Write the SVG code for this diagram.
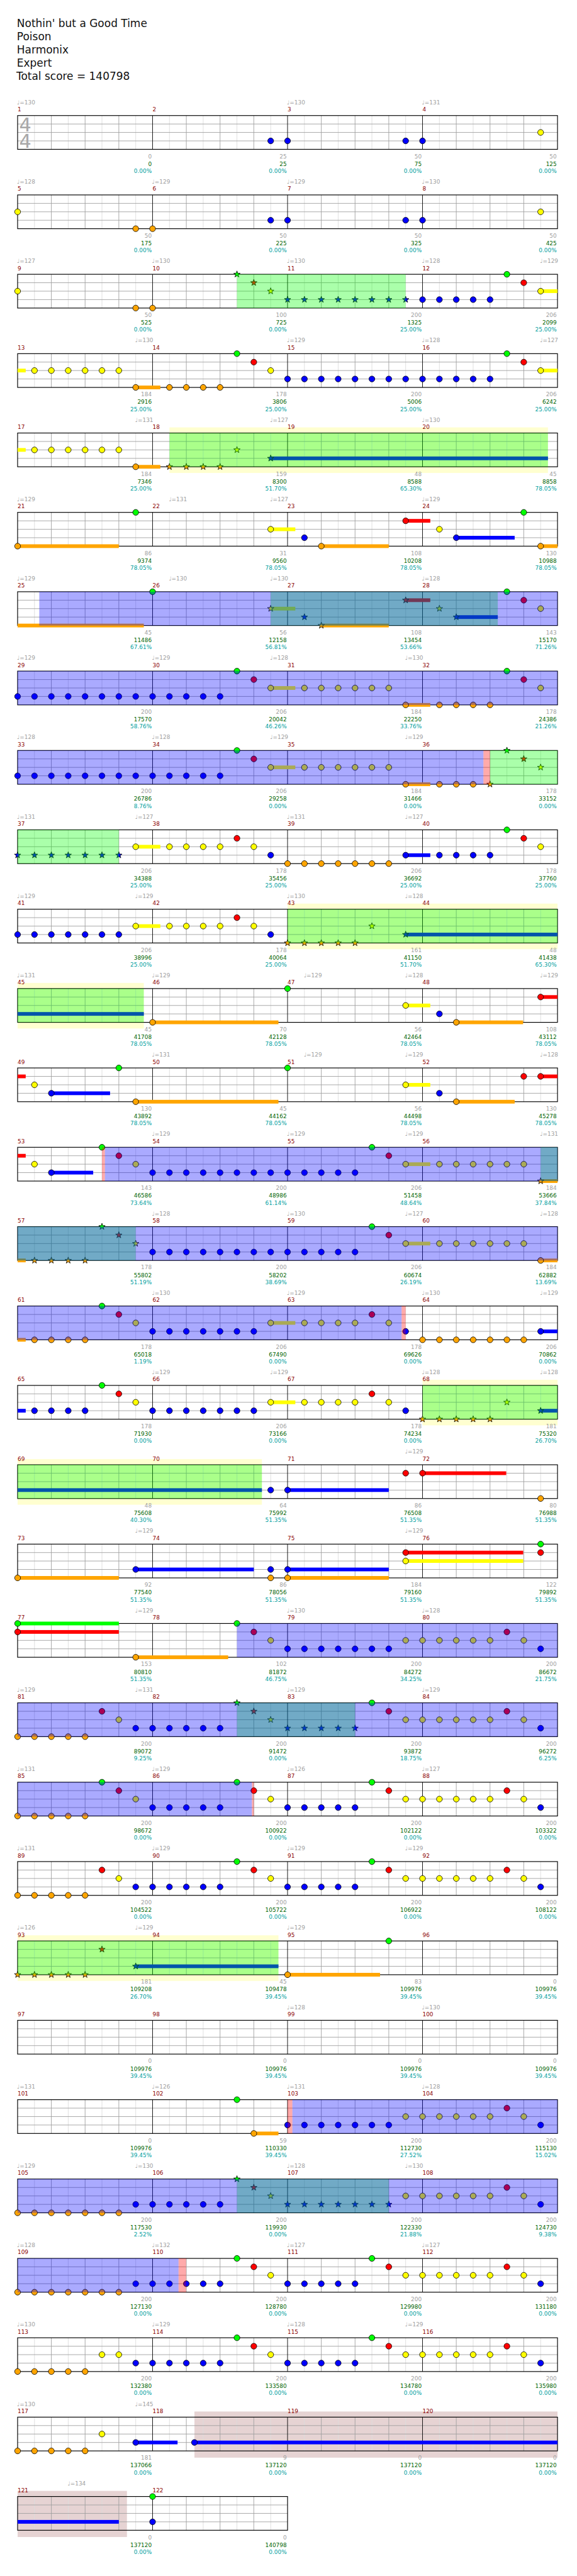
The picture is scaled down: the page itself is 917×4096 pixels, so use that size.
<svg xmlns="http://www.w3.org/2000/svg" width="917" height="4096" viewBox="0 0 917 4096">
<style>
text{font-family:"DejaVu Sans","Liberation Sans",sans-serif;font-size:10px}
.h{font-size:19px;fill:#111}
.ts{font-size:34px;fill:#a8a8a8}
.t{fill:#a0a0a0}
.m{fill:#8b0000}
.p,.q,.c{text-anchor:end}
.p{fill:#a0a0a0}.q{fill:#006400}.c{fill:#00a0a0}
.g{fill:#0f0}.r{fill:#f00}.y{fill:#ff0}.b{fill:#00f}.o{fill:#ffa500}
circle,.s{stroke:#000;stroke-width:.9}
.lg{fill:#0f0;fill-opacity:.333}
.lb{fill:#00f;fill-opacity:.333}
.lp{fill:#f00;fill-opacity:.333}
.wy{fill:#ffffd0}
.bre{fill:#e6d3d3}
</style>
<defs>
<path id="S" d="M0-6L1.41-1.94 5.71-1.85 2.28.74 3.53 4.85 0 2.4-3.53 4.85-2.28.74-5.71-1.85-1.41-1.94Z"/>
<g id="grid" fill="none">
<path stroke="#dcdcdc" d="M30 0V60M90 0V60M150 0V60M210 0V60M270 0V60M330 0V60M390 0V60M450 0V60M510 0V60M570 0V60M630 0V60M690 0V60M750 0V60M810 0V60M870 0V60M930 0V60"/>
<path stroke="#a0a0a0" d="M60 0V60M120 0V60M180 0V60M300 0V60M360 0V60M420 0V60M540 0V60M600 0V60M660 0V60M780 0V60M840 0V60M900 0V60M0 15H960M0 30H960M0 45H960"/>
<path stroke="#000" d="M240 0V60M480 0V60M720 0V60"/>
<rect width="960" height="60" stroke="#000" stroke-width="1.3"/>
</g>
<g id="grid2" fill="none">
<path stroke="#dcdcdc" d="M30 0V60M90 0V60M150 0V60M210 0V60M270 0V60M330 0V60M390 0V60M450 0V60"/>
<path stroke="#a0a0a0" d="M60 0V60M120 0V60M180 0V60M300 0V60M360 0V60M420 0V60M0 15H480M0 30H480M0 45H480"/>
<path stroke="#000" d="M240 0V60"/>
<rect width="480" height="60" stroke="#000" stroke-width="1.3"/>
</g>
</defs>
<g transform="scale(0.8938 0.895)">
<g id="header">
<text class="h" x="30" y="48.3">Nothin' but a Good Time</text>
<text class="h" x="30" y="71.6">Poison</text>
<text class="h" x="30" y="95">Harmonix</text>
<text class="h" x="30" y="118.3">Expert</text>
<text class="h" x="29" y="141.6">Total score = 140798</text>
</g>

<g id="row01" transform="translate(31.3 205.3)">
<use href="#grid"/>
<text class="ts" x="2.7" y="27.7">4</text><text class="ts" x="2.7" y="57.7">4</text>
<circle class="b" cx="450" cy="45" r="5.2"/><circle class="b" cx="480" cy="45" r="5.2"/><circle class="b" cx="690" cy="45" r="5.2"/><circle class="b" cx="720" cy="45" r="5.2"/><circle class="y" cx="930" cy="30" r="5.2"/>
<text class="t" x="-1" y="-20">♩=130</text><text class="t" x="479" y="-20">♩=130</text><text class="t" x="719" y="-20">♩=131</text>
<text class="m" y="-7.3">1</text><text class="m" x="240" y="-7.3">2</text><text class="m" x="480" y="-7.3">3</text><text class="m" x="720" y="-7.3">4</text>
<text class="p" x="238.5" y="76">0</text><text class="q" x="238.5" y="89.5">0</text><text class="c" x="238.5" y="102">0.00%</text>
<text class="p" x="478.5" y="76">25</text><text class="q" x="478.5" y="89.5">25</text><text class="c" x="478.5" y="102">0.00%</text>
<text class="p" x="718.5" y="76">50</text><text class="q" x="718.5" y="89.5">75</text><text class="c" x="718.5" y="102">0.00%</text>
<text class="p" x="958.5" y="76">50</text><text class="q" x="958.5" y="89.5">125</text><text class="c" x="958.5" y="102">0.00%</text>
</g>

<g id="row02" transform="translate(31.3 346.3)">
<use href="#grid"/>
<circle class="y" cx="0" cy="30" r="5.2"/><circle class="o" cx="210" cy="60" r="5.2"/><circle class="o" cx="240" cy="60" r="5.2"/><circle class="b" cx="450" cy="45" r="5.2"/><circle class="b" cx="480" cy="45" r="5.2"/><circle class="b" cx="690" cy="45" r="5.2"/><circle class="b" cx="720" cy="45" r="5.2"/><circle class="y" cx="930" cy="30" r="5.2"/>
<text class="t" x="-1" y="-20">♩=128</text><text class="t" x="239" y="-20">♩=129</text><text class="t" x="479" y="-20">♩=129</text><text class="t" x="719" y="-20">♩=130</text>
<text class="m" y="-7.3">5</text><text class="m" x="240" y="-7.3">6</text><text class="m" x="480" y="-7.3">7</text><text class="m" x="720" y="-7.3">8</text>
<text class="p" x="238.5" y="76">50</text><text class="q" x="238.5" y="89.5">175</text><text class="c" x="238.5" y="102">0.00%</text>
<text class="p" x="478.5" y="76">50</text><text class="q" x="478.5" y="89.5">225</text><text class="c" x="478.5" y="102">0.00%</text>
<text class="p" x="718.5" y="76">50</text><text class="q" x="718.5" y="89.5">325</text><text class="c" x="718.5" y="102">0.00%</text>
<text class="p" x="958.5" y="76">50</text><text class="q" x="958.5" y="89.5">425</text><text class="c" x="958.5" y="102">0.00%</text>
</g>

<g id="row03" transform="translate(31.3 487.3)">
<use href="#grid"/>
<rect class="y" x="930" y="26.7" width="30" height="6.6"/>
<circle class="y" cx="0" cy="30" r="5.2"/><circle class="o" cx="210" cy="60" r="5.2"/><circle class="o" cx="240" cy="60" r="5.2"/>
<use class="s g" href="#S" x="390" y="0"/><use class="s r" href="#S" x="420" y="15"/><use class="s y" href="#S" x="450" y="30"/><use class="s b" href="#S" x="480" y="45"/><use class="s b" href="#S" x="510" y="45"/><use class="s b" href="#S" x="540" y="45"/><use class="s b" href="#S" x="570" y="45"/><use class="s b" href="#S" x="600" y="45"/><use class="s b" href="#S" x="630" y="45"/><use class="s b" href="#S" x="660" y="45"/><use class="s b" href="#S" x="690" y="45"/>
<circle class="b" cx="720" cy="45" r="5.2"/><circle class="b" cx="750" cy="45" r="5.2"/><circle class="b" cx="780" cy="45" r="5.2"/><circle class="b" cx="810" cy="45" r="5.2"/><circle class="b" cx="840" cy="45" r="5.2"/><circle class="g" cx="870" cy="0" r="5.2"/><circle class="r" cx="900" cy="15" r="5.2"/><circle class="y" cx="930" cy="30" r="5.2"/>
<rect class="lg" x="390" y="0" width="300" height="60"/>
<text class="t" x="-1" y="-20">♩=127</text><text class="t" x="239" y="-20">♩=130</text><text class="t" x="479" y="-20">♩=130</text><text class="t" x="719" y="-20">♩=128</text><text class="t" x="929" y="-20">♩=129</text>
<text class="m" y="-7.3">9</text><text class="m" x="240" y="-7.3">10</text><text class="m" x="480" y="-7.3">11</text><text class="m" x="720" y="-7.3">12</text>
<text class="p" x="238.5" y="76">50</text><text class="q" x="238.5" y="89.5">525</text><text class="c" x="238.5" y="102">0.00%</text>
<text class="p" x="478.5" y="76">100</text><text class="q" x="478.5" y="89.5">725</text><text class="c" x="478.5" y="102">0.00%</text>
<text class="p" x="718.5" y="76">200</text><text class="q" x="718.5" y="89.5">1325</text><text class="c" x="718.5" y="102">25.00%</text>
<text class="p" x="958.5" y="76">206</text><text class="q" x="958.5" y="89.5">2099</text><text class="c" x="958.5" y="102">25.00%</text>
</g>

<g id="row04" transform="translate(31.3 628.3)">
<use href="#grid"/>
<rect class="y" x="0" y="26.7" width="14.4" height="6.6"/><rect class="o" x="210" y="56.7" width="43.8" height="6.6"/><rect class="y" x="930" y="26.7" width="30" height="6.6"/>
<circle class="y" cx="30" cy="30" r="5.2"/><circle class="y" cx="60" cy="30" r="5.2"/><circle class="y" cx="90" cy="30" r="5.2"/><circle class="y" cx="120" cy="30" r="5.2"/><circle class="y" cx="150" cy="30" r="5.2"/><circle class="y" cx="180" cy="30" r="5.2"/>
<circle class="o" cx="210" cy="60" r="5.2"/><circle class="o" cx="270" cy="60" r="5.2"/><circle class="o" cx="300" cy="60" r="5.2"/><circle class="o" cx="330" cy="60" r="5.2"/><circle class="o" cx="360" cy="60" r="5.2"/>
<circle class="g" cx="390" cy="0" r="5.2"/><circle class="r" cx="420" cy="15" r="5.2"/><circle class="y" cx="450" cy="30" r="5.2"/>
<circle class="b" cx="480" cy="45" r="5.2"/><circle class="b" cx="510" cy="45" r="5.2"/><circle class="b" cx="540" cy="45" r="5.2"/><circle class="b" cx="570" cy="45" r="5.2"/><circle class="b" cx="600" cy="45" r="5.2"/><circle class="b" cx="630" cy="45" r="5.2"/><circle class="b" cx="660" cy="45" r="5.2"/><circle class="b" cx="690" cy="45" r="5.2"/><circle class="b" cx="720" cy="45" r="5.2"/><circle class="b" cx="750" cy="45" r="5.2"/><circle class="b" cx="780" cy="45" r="5.2"/><circle class="b" cx="810" cy="45" r="5.2"/><circle class="b" cx="840" cy="45" r="5.2"/>
<circle class="g" cx="870" cy="0" r="5.2"/><circle class="r" cx="900" cy="15" r="5.2"/><circle class="y" cx="930" cy="30" r="5.2"/>
<text class="t" x="209" y="-20">♩=130</text><text class="t" x="479" y="-20">♩=129</text><text class="t" x="719" y="-20">♩=128</text><text class="t" x="929" y="-20">♩=127</text>
<text class="m" y="-7.3">13</text><text class="m" x="240" y="-7.3">14</text><text class="m" x="480" y="-7.3">15</text><text class="m" x="720" y="-7.3">16</text>
<text class="p" x="238.5" y="76">184</text><text class="q" x="238.5" y="89.5">2916</text><text class="c" x="238.5" y="102">25.00%</text>
<text class="p" x="478.5" y="76">178</text><text class="q" x="478.5" y="89.5">3806</text><text class="c" x="478.5" y="102">25.00%</text>
<text class="p" x="718.5" y="76">200</text><text class="q" x="718.5" y="89.5">5006</text><text class="c" x="718.5" y="102">25.00%</text>
<text class="p" x="958.5" y="76">206</text><text class="q" x="958.5" y="89.5">6242</text><text class="c" x="958.5" y="102">25.00%</text>
</g>

<g id="row05" transform="translate(31.3 769.3)">
<rect class="wy" x="270" y="-10" width="673" height="81"/>
<use href="#grid"/>
<rect class="y" x="0" y="26.7" width="14.4" height="6.6"/><rect class="o" x="210" y="56.7" width="43.8" height="6.6"/><rect class="b" x="450" y="41.7" width="493" height="6.6"/>
<circle class="y" cx="30" cy="30" r="5.2"/><circle class="y" cx="60" cy="30" r="5.2"/><circle class="y" cx="90" cy="30" r="5.2"/><circle class="y" cx="120" cy="30" r="5.2"/><circle class="y" cx="150" cy="30" r="5.2"/><circle class="y" cx="180" cy="30" r="5.2"/>
<circle class="o" cx="210" cy="60" r="5.2"/>
<use class="s o" href="#S" x="270" y="60"/><use class="s o" href="#S" x="300" y="60"/><use class="s o" href="#S" x="330" y="60"/><use class="s o" href="#S" x="360" y="60"/><use class="s y" href="#S" x="390" y="30"/><use class="s b" href="#S" x="450" y="45"/>
<rect class="lg" x="270" y="0" width="673" height="60"/>
<text class="t" x="209" y="-20">♩=131</text><text class="t" x="449" y="-20">♩=127</text><text class="t" x="719" y="-20">♩=130</text>
<text class="m" y="-7.3">17</text><text class="m" x="240" y="-7.3">18</text><text class="m" x="480" y="-7.3">19</text><text class="m" x="720" y="-7.3">20</text>
<text class="p" x="238.5" y="76">184</text><text class="q" x="238.5" y="89.5">7346</text><text class="c" x="238.5" y="102">25.00%</text>
<text class="p" x="478.5" y="76">159</text><text class="q" x="478.5" y="89.5">8300</text><text class="c" x="478.5" y="102">51.70%</text>
<text class="p" x="718.5" y="76">48</text><text class="q" x="718.5" y="89.5">8588</text><text class="c" x="718.5" y="102">65.30%</text>
<text class="p" x="958.5" y="76">45</text><text class="q" x="958.5" y="89.5">8858</text><text class="c" x="958.5" y="102">78.05%</text>
</g>

<g id="row06" transform="translate(31.3 910.3)">
<use href="#grid"/>
<rect class="o" x="0" y="56.7" width="180" height="6.6"/><rect class="y" x="450" y="26.7" width="43.8" height="6.6"/><rect class="o" x="540" y="56.7" width="120" height="6.6"/><rect class="r" x="690" y="11.7" width="43.8" height="6.6"/><rect class="b" x="780" y="41.7" width="103.8" height="6.6"/><rect class="o" x="930" y="56.7" width="30" height="6.6"/>
<circle class="o" cx="0" cy="60" r="5.2"/><circle class="g" cx="210" cy="0" r="5.2"/><circle class="y" cx="450" cy="30" r="5.2"/><circle class="b" cx="510" cy="45" r="5.2"/><circle class="o" cx="540" cy="60" r="5.2"/><circle class="r" cx="690" cy="15" r="5.2"/><circle class="y" cx="750" cy="30" r="5.2"/><circle class="b" cx="780" cy="45" r="5.2"/><circle class="g" cx="900" cy="0" r="5.2"/><circle class="o" cx="930" cy="60" r="5.2"/>
<text class="t" x="-1" y="-20">♩=129</text><text class="t" x="269" y="-20">♩=131</text><text class="t" x="449" y="-20">♩=127</text><text class="t" x="719" y="-20">♩=129</text>
<text class="m" y="-7.3">21</text><text class="m" x="240" y="-7.3">22</text><text class="m" x="480" y="-7.3">23</text><text class="m" x="720" y="-7.3">24</text>
<text class="p" x="238.5" y="76">86</text><text class="q" x="238.5" y="89.5">9374</text><text class="c" x="238.5" y="102">78.05%</text>
<text class="p" x="478.5" y="76">31</text><text class="q" x="478.5" y="89.5">9560</text><text class="c" x="478.5" y="102">78.05%</text>
<text class="p" x="718.5" y="76">108</text><text class="q" x="718.5" y="89.5">10208</text><text class="c" x="718.5" y="102">78.05%</text>
<text class="p" x="958.5" y="76">130</text><text class="q" x="958.5" y="89.5">10988</text><text class="c" x="958.5" y="102">78.05%</text>
</g>

<g id="row07" transform="translate(31.3 1051.3)">
<use href="#grid"/>
<rect class="o" x="0" y="56.7" width="224.4" height="6.6"/><rect class="y" x="450" y="26.7" width="43.8" height="6.6"/><rect class="o" x="540" y="56.7" width="120" height="6.6"/><rect class="r" x="690" y="11.7" width="43.8" height="6.6"/><rect class="b" x="780" y="41.7" width="73.8" height="6.6"/>
<circle class="g" cx="240" cy="0" r="5.2"/>
<use class="s y" href="#S" x="450" y="30"/><use class="s b" href="#S" x="510" y="45"/><use class="s o" href="#S" x="540" y="60"/><use class="s r" href="#S" x="690" y="15"/><use class="s y" href="#S" x="750" y="30"/><use class="s b" href="#S" x="780" y="45"/>
<circle class="g" cx="870" cy="0" r="5.2"/><circle class="r" cx="900" cy="15" r="5.2"/><circle class="y" cx="930" cy="30" r="5.2"/>
<rect class="lg" x="450" y="0" width="403.8" height="60"/>
<rect class="lb" x="38.5" y="0" width="921.5" height="60"/>
<text class="t" x="-1" y="-20">♩=129</text><text class="t" x="269" y="-20">♩=130</text><text class="t" x="449" y="-20">♩=130</text><text class="t" x="719" y="-20">♩=128</text>
<text class="m" y="-7.3">25</text><text class="m" x="240" y="-7.3">26</text><text class="m" x="480" y="-7.3">27</text><text class="m" x="720" y="-7.3">28</text>
<text class="p" x="238.5" y="76">45</text><text class="q" x="238.5" y="89.5">11486</text><text class="c" x="238.5" y="102">67.61%</text>
<text class="p" x="478.5" y="76">56</text><text class="q" x="478.5" y="89.5">12158</text><text class="c" x="478.5" y="102">56.81%</text>
<text class="p" x="718.5" y="76">108</text><text class="q" x="718.5" y="89.5">13454</text><text class="c" x="718.5" y="102">53.66%</text>
<text class="p" x="958.5" y="76">143</text><text class="q" x="958.5" y="89.5">15170</text><text class="c" x="958.5" y="102">71.26%</text>
</g>

<g id="row08" transform="translate(31.3 1192.3)">
<use href="#grid"/>
<rect class="y" x="450" y="26.7" width="43.8" height="6.6"/><rect class="o" x="690" y="56.7" width="43.8" height="6.6"/>
<circle class="b" cx="0" cy="45" r="5.2"/><circle class="b" cx="30" cy="45" r="5.2"/><circle class="b" cx="60" cy="45" r="5.2"/><circle class="b" cx="90" cy="45" r="5.2"/><circle class="b" cx="120" cy="45" r="5.2"/><circle class="b" cx="150" cy="45" r="5.2"/><circle class="b" cx="180" cy="45" r="5.2"/><circle class="b" cx="210" cy="45" r="5.2"/><circle class="b" cx="240" cy="45" r="5.2"/><circle class="b" cx="270" cy="45" r="5.2"/><circle class="b" cx="300" cy="45" r="5.2"/><circle class="b" cx="330" cy="45" r="5.2"/><circle class="b" cx="360" cy="45" r="5.2"/>
<circle class="g" cx="390" cy="0" r="5.2"/><circle class="r" cx="420" cy="15" r="5.2"/><circle class="y" cx="450" cy="30" r="5.2"/>
<circle class="y" cx="510" cy="30" r="5.2"/><circle class="y" cx="540" cy="30" r="5.2"/><circle class="y" cx="570" cy="30" r="5.2"/><circle class="y" cx="600" cy="30" r="5.2"/><circle class="y" cx="630" cy="30" r="5.2"/><circle class="y" cx="660" cy="30" r="5.2"/>
<circle class="o" cx="690" cy="60" r="5.2"/><circle class="o" cx="750" cy="60" r="5.2"/><circle class="o" cx="780" cy="60" r="5.2"/><circle class="o" cx="810" cy="60" r="5.2"/><circle class="o" cx="840" cy="60" r="5.2"/>
<circle class="g" cx="870" cy="0" r="5.2"/><circle class="r" cx="900" cy="15" r="5.2"/><circle class="y" cx="930" cy="30" r="5.2"/>
<rect class="lb" x="0" y="0" width="960" height="60"/>
<text class="t" x="-1" y="-20">♩=129</text><text class="t" x="239" y="-20">♩=129</text><text class="t" x="449" y="-20">♩=128</text><text class="t" x="689" y="-20">♩=130</text>
<text class="m" y="-7.3">29</text><text class="m" x="240" y="-7.3">30</text><text class="m" x="480" y="-7.3">31</text><text class="m" x="720" y="-7.3">32</text>
<text class="p" x="238.5" y="76">200</text><text class="q" x="238.5" y="89.5">17570</text><text class="c" x="238.5" y="102">58.76%</text>
<text class="p" x="478.5" y="76">206</text><text class="q" x="478.5" y="89.5">20042</text><text class="c" x="478.5" y="102">46.26%</text>
<text class="p" x="718.5" y="76">184</text><text class="q" x="718.5" y="89.5">22250</text><text class="c" x="718.5" y="102">33.76%</text>
<text class="p" x="958.5" y="76">178</text><text class="q" x="958.5" y="89.5">24386</text><text class="c" x="958.5" y="102">21.26%</text>
</g>

<g id="row09" transform="translate(31.3 1333.3)">
<use href="#grid"/>
<rect class="y" x="450" y="26.7" width="43.8" height="6.6"/><rect class="o" x="690" y="56.7" width="43.8" height="6.6"/>
<circle class="b" cx="0" cy="45" r="5.2"/><circle class="b" cx="30" cy="45" r="5.2"/><circle class="b" cx="60" cy="45" r="5.2"/><circle class="b" cx="90" cy="45" r="5.2"/><circle class="b" cx="120" cy="45" r="5.2"/><circle class="b" cx="150" cy="45" r="5.2"/><circle class="b" cx="180" cy="45" r="5.2"/><circle class="b" cx="210" cy="45" r="5.2"/><circle class="b" cx="240" cy="45" r="5.2"/><circle class="b" cx="270" cy="45" r="5.2"/><circle class="b" cx="300" cy="45" r="5.2"/><circle class="b" cx="330" cy="45" r="5.2"/><circle class="b" cx="360" cy="45" r="5.2"/>
<circle class="g" cx="390" cy="0" r="5.2"/><circle class="r" cx="420" cy="15" r="5.2"/><circle class="y" cx="450" cy="30" r="5.2"/>
<circle class="y" cx="510" cy="30" r="5.2"/><circle class="y" cx="540" cy="30" r="5.2"/><circle class="y" cx="570" cy="30" r="5.2"/><circle class="y" cx="600" cy="30" r="5.2"/><circle class="y" cx="630" cy="30" r="5.2"/><circle class="y" cx="660" cy="30" r="5.2"/>
<circle class="o" cx="690" cy="60" r="5.2"/><circle class="o" cx="750" cy="60" r="5.2"/><circle class="o" cx="780" cy="60" r="5.2"/><circle class="o" cx="810" cy="60" r="5.2"/>
<use class="s o" href="#S" x="840" y="60"/><use class="s g" href="#S" x="870" y="0"/><use class="s r" href="#S" x="900" y="15"/><use class="s y" href="#S" x="930" y="30"/>
<rect class="lg" x="840" y="0" width="120" height="60"/>
<rect class="lb" x="0" y="0" width="828.3" height="60"/>
<rect class="lp" x="828.3" y="0" width="11.7" height="60"/>
<text class="t" x="-1" y="-20">♩=128</text><text class="t" x="239" y="-20">♩=128</text><text class="t" x="449" y="-20">♩=129</text><text class="t" x="689" y="-20">♩=129</text>
<text class="m" y="-7.3">33</text><text class="m" x="240" y="-7.3">34</text><text class="m" x="480" y="-7.3">35</text><text class="m" x="720" y="-7.3">36</text>
<text class="p" x="238.5" y="76">200</text><text class="q" x="238.5" y="89.5">26786</text><text class="c" x="238.5" y="102">8.76%</text>
<text class="p" x="478.5" y="76">206</text><text class="q" x="478.5" y="89.5">29258</text><text class="c" x="478.5" y="102">0.00%</text>
<text class="p" x="718.5" y="76">184</text><text class="q" x="718.5" y="89.5">31466</text><text class="c" x="718.5" y="102">0.00%</text>
<text class="p" x="958.5" y="76">178</text><text class="q" x="958.5" y="89.5">33152</text><text class="c" x="958.5" y="102">0.00%</text>
</g>

<g id="row10" transform="translate(31.3 1474.3)">
<use href="#grid"/>
<rect class="y" x="210" y="26.7" width="43.8" height="6.6"/><rect class="b" x="690" y="41.7" width="43.8" height="6.6"/>
<use class="s b" href="#S" x="0" y="45"/><use class="s b" href="#S" x="30" y="45"/><use class="s b" href="#S" x="60" y="45"/><use class="s b" href="#S" x="90" y="45"/><use class="s b" href="#S" x="120" y="45"/><use class="s b" href="#S" x="150" y="45"/><use class="s b" href="#S" x="180" y="45"/>
<circle class="y" cx="210" cy="30" r="5.2"/><circle class="y" cx="270" cy="30" r="5.2"/><circle class="y" cx="300" cy="30" r="5.2"/><circle class="y" cx="330" cy="30" r="5.2"/><circle class="y" cx="360" cy="30" r="5.2"/>
<circle class="r" cx="390" cy="15" r="5.2"/><circle class="y" cx="420" cy="30" r="5.2"/><circle class="b" cx="450" cy="45" r="5.2"/>
<circle class="o" cx="480" cy="60" r="5.2"/><circle class="o" cx="510" cy="60" r="5.2"/><circle class="o" cx="540" cy="60" r="5.2"/><circle class="o" cx="570" cy="60" r="5.2"/><circle class="o" cx="600" cy="60" r="5.2"/><circle class="o" cx="630" cy="60" r="5.2"/><circle class="o" cx="660" cy="60" r="5.2"/>
<circle class="b" cx="690" cy="45" r="5.2"/><circle class="b" cx="750" cy="45" r="5.2"/><circle class="b" cx="780" cy="45" r="5.2"/><circle class="b" cx="810" cy="45" r="5.2"/><circle class="b" cx="840" cy="45" r="5.2"/>
<circle class="g" cx="870" cy="0" r="5.2"/><circle class="r" cx="900" cy="15" r="5.2"/><circle class="y" cx="930" cy="30" r="5.2"/>
<rect class="lg" x="0" y="0" width="180" height="60"/>
<text class="t" x="-1" y="-20">♩=131</text><text class="t" x="209" y="-20">♩=127</text><text class="t" x="479" y="-20">♩=131</text><text class="t" x="689" y="-20">♩=127</text>
<text class="m" y="-7.3">37</text><text class="m" x="240" y="-7.3">38</text><text class="m" x="480" y="-7.3">39</text><text class="m" x="720" y="-7.3">40</text>
<text class="p" x="238.5" y="76">206</text><text class="q" x="238.5" y="89.5">34388</text><text class="c" x="238.5" y="102">25.00%</text>
<text class="p" x="478.5" y="76">178</text><text class="q" x="478.5" y="89.5">35456</text><text class="c" x="478.5" y="102">25.00%</text>
<text class="p" x="718.5" y="76">206</text><text class="q" x="718.5" y="89.5">36692</text><text class="c" x="718.5" y="102">25.00%</text>
<text class="p" x="958.5" y="76">178</text><text class="q" x="958.5" y="89.5">37760</text><text class="c" x="958.5" y="102">25.00%</text>
</g>

<g id="row11" transform="translate(31.3 1615.3)">
<rect class="wy" x="480" y="-10" width="480" height="81"/>
<use href="#grid"/>
<rect class="y" x="210" y="26.7" width="43.8" height="6.6"/><rect class="b" x="690" y="41.7" width="270" height="6.6"/>
<circle class="b" cx="0" cy="45" r="5.2"/><circle class="b" cx="30" cy="45" r="5.2"/><circle class="b" cx="60" cy="45" r="5.2"/><circle class="b" cx="90" cy="45" r="5.2"/><circle class="b" cx="120" cy="45" r="5.2"/><circle class="b" cx="150" cy="45" r="5.2"/><circle class="b" cx="180" cy="45" r="5.2"/>
<circle class="y" cx="210" cy="30" r="5.2"/><circle class="y" cx="270" cy="30" r="5.2"/><circle class="y" cx="300" cy="30" r="5.2"/><circle class="y" cx="330" cy="30" r="5.2"/><circle class="y" cx="360" cy="30" r="5.2"/>
<circle class="r" cx="390" cy="15" r="5.2"/><circle class="y" cx="420" cy="30" r="5.2"/><circle class="b" cx="450" cy="45" r="5.2"/>
<use class="s o" href="#S" x="480" y="60"/><use class="s o" href="#S" x="510" y="60"/><use class="s o" href="#S" x="540" y="60"/><use class="s o" href="#S" x="570" y="60"/><use class="s o" href="#S" x="600" y="60"/><use class="s y" href="#S" x="630" y="30"/><use class="s b" href="#S" x="690" y="45"/>
<rect class="lg" x="480" y="0" width="480" height="60"/>
<text class="t" x="-1" y="-20">♩=129</text><text class="t" x="209" y="-20">♩=129</text><text class="t" x="479" y="-20">♩=130</text><text class="t" x="689" y="-20">♩=128</text>
<text class="m" y="-7.3">41</text><text class="m" x="240" y="-7.3">42</text><text class="m" x="480" y="-7.3">43</text><text class="m" x="720" y="-7.3">44</text>
<text class="p" x="238.5" y="76">206</text><text class="q" x="238.5" y="89.5">38996</text><text class="c" x="238.5" y="102">25.00%</text>
<text class="p" x="478.5" y="76">178</text><text class="q" x="478.5" y="89.5">40064</text><text class="c" x="478.5" y="102">25.00%</text>
<text class="p" x="718.5" y="76">161</text><text class="q" x="718.5" y="89.5">41150</text><text class="c" x="718.5" y="102">51.70%</text>
<text class="p" x="958.5" y="76">48</text><text class="q" x="958.5" y="89.5">41438</text><text class="c" x="958.5" y="102">65.30%</text>
</g>

<g id="row12" transform="translate(31.3 1756.3)">
<rect class="wy" x="0" y="-10" width="224.4" height="81"/>
<use href="#grid"/>
<rect class="b" x="0" y="41.7" width="224.4" height="6.6"/><rect class="o" x="240" y="56.7" width="223.8" height="6.6"/><rect class="y" x="690" y="26.7" width="43.8" height="6.6"/><rect class="o" x="780" y="56.7" width="118.8" height="6.6"/><rect class="r" x="930" y="11.7" width="30" height="6.6"/>
<circle class="o" cx="240" cy="60" r="5.2"/><circle class="g" cx="480" cy="0" r="5.2"/><circle class="y" cx="690" cy="30" r="5.2"/><circle class="b" cx="750" cy="45" r="5.2"/><circle class="o" cx="780" cy="60" r="5.2"/><circle class="r" cx="930" cy="15" r="5.2"/>
<rect class="lg" x="0" y="0" width="224.4" height="60"/>
<text class="t" x="-1" y="-20">♩=131</text><text class="t" x="239" y="-20">♩=129</text><text class="t" x="509" y="-20">♩=129</text><text class="t" x="689" y="-20">♩=128</text><text class="t" x="929" y="-20">♩=129</text>
<text class="m" y="-7.3">45</text><text class="m" x="240" y="-7.3">46</text><text class="m" x="480" y="-7.3">47</text><text class="m" x="720" y="-7.3">48</text>
<text class="p" x="238.5" y="76">45</text><text class="q" x="238.5" y="89.5">41708</text><text class="c" x="238.5" y="102">78.05%</text>
<text class="p" x="478.5" y="76">70</text><text class="q" x="478.5" y="89.5">42128</text><text class="c" x="478.5" y="102">78.05%</text>
<text class="p" x="718.5" y="76">56</text><text class="q" x="718.5" y="89.5">42464</text><text class="c" x="718.5" y="102">78.05%</text>
<text class="p" x="958.5" y="76">108</text><text class="q" x="958.5" y="89.5">43112</text><text class="c" x="958.5" y="102">78.05%</text>
</g>

<g id="row13" transform="translate(31.3 1897.3)">
<use href="#grid"/>
<rect class="r" x="0" y="11.7" width="14.4" height="6.6"/><rect class="b" x="60" y="41.7" width="104.4" height="6.6"/><rect class="o" x="210" y="56.7" width="253.8" height="6.6"/><rect class="y" x="690" y="26.7" width="43.8" height="6.6"/><rect class="o" x="780" y="56.7" width="103.8" height="6.6"/><rect class="r" x="930" y="11.7" width="30" height="6.6"/>
<circle class="y" cx="30" cy="30" r="5.2"/><circle class="b" cx="60" cy="45" r="5.2"/><circle class="g" cx="180" cy="0" r="5.2"/><circle class="o" cx="210" cy="60" r="5.2"/><circle class="g" cx="480" cy="0" r="5.2"/><circle class="y" cx="690" cy="30" r="5.2"/><circle class="b" cx="750" cy="45" r="5.2"/><circle class="o" cx="780" cy="60" r="5.2"/><circle class="r" cx="900" cy="15" r="5.2"/><circle class="r" cx="930" cy="15" r="5.2"/>
<text class="t" x="239" y="-20">♩=131</text><text class="t" x="509" y="-20">♩=129</text><text class="t" x="689" y="-20">♩=129</text><text class="t" x="929" y="-20">♩=128</text>
<text class="m" y="-7.3">49</text><text class="m" x="240" y="-7.3">50</text><text class="m" x="480" y="-7.3">51</text><text class="m" x="720" y="-7.3">52</text>
<text class="p" x="238.5" y="76">130</text><text class="q" x="238.5" y="89.5">43892</text><text class="c" x="238.5" y="102">78.05%</text>
<text class="p" x="478.5" y="76">45</text><text class="q" x="478.5" y="89.5">44162</text><text class="c" x="478.5" y="102">78.05%</text>
<text class="p" x="718.5" y="76">56</text><text class="q" x="718.5" y="89.5">44498</text><text class="c" x="718.5" y="102">78.05%</text>
<text class="p" x="958.5" y="76">130</text><text class="q" x="958.5" y="89.5">45278</text><text class="c" x="958.5" y="102">78.05%</text>
</g>

<g id="row14" transform="translate(31.3 2038.3)">
<use href="#grid"/>
<rect class="r" x="0" y="11.7" width="14.4" height="6.6"/><rect class="b" x="60" y="41.7" width="74.4" height="6.6"/><rect class="y" x="690" y="26.7" width="43.8" height="6.6"/><rect class="o" x="930" y="56.7" width="30" height="6.6"/>
<circle class="y" cx="30" cy="30" r="5.2"/><circle class="b" cx="60" cy="45" r="5.2"/><circle class="g" cx="150" cy="0" r="5.2"/><circle class="r" cx="180" cy="15" r="5.2"/><circle class="y" cx="210" cy="30" r="5.2"/>
<circle class="b" cx="240" cy="45" r="5.2"/><circle class="b" cx="270" cy="45" r="5.2"/><circle class="b" cx="300" cy="45" r="5.2"/><circle class="b" cx="330" cy="45" r="5.2"/><circle class="b" cx="360" cy="45" r="5.2"/><circle class="b" cx="390" cy="45" r="5.2"/><circle class="b" cx="420" cy="45" r="5.2"/><circle class="b" cx="450" cy="45" r="5.2"/><circle class="b" cx="480" cy="45" r="5.2"/><circle class="b" cx="510" cy="45" r="5.2"/><circle class="b" cx="540" cy="45" r="5.2"/><circle class="b" cx="570" cy="45" r="5.2"/><circle class="b" cx="600" cy="45" r="5.2"/>
<circle class="g" cx="630" cy="0" r="5.2"/><circle class="r" cx="660" cy="15" r="5.2"/><circle class="y" cx="690" cy="30" r="5.2"/>
<circle class="y" cx="750" cy="30" r="5.2"/><circle class="y" cx="780" cy="30" r="5.2"/><circle class="y" cx="810" cy="30" r="5.2"/><circle class="y" cx="840" cy="30" r="5.2"/><circle class="y" cx="870" cy="30" r="5.2"/><circle class="y" cx="900" cy="30" r="5.2"/>
<use class="s o" href="#S" x="930" y="60"/>
<rect class="lg" x="930" y="0" width="30" height="60"/>
<rect class="lb" x="155.2" y="0" width="804.8" height="60"/>
<rect class="lp" x="150" y="0" width="5.2" height="60"/>
<text class="t" x="239" y="-20">♩=129</text><text class="t" x="479" y="-20">♩=129</text><text class="t" x="689" y="-20">♩=129</text><text class="t" x="929" y="-20">♩=131</text>
<text class="m" y="-7.3">53</text><text class="m" x="240" y="-7.3">54</text><text class="m" x="480" y="-7.3">55</text><text class="m" x="720" y="-7.3">56</text>
<text class="p" x="238.5" y="76">143</text><text class="q" x="238.5" y="89.5">46586</text><text class="c" x="238.5" y="102">73.64%</text>
<text class="p" x="478.5" y="76">200</text><text class="q" x="478.5" y="89.5">48986</text><text class="c" x="478.5" y="102">61.14%</text>
<text class="p" x="718.5" y="76">206</text><text class="q" x="718.5" y="89.5">51458</text><text class="c" x="718.5" y="102">48.64%</text>
<text class="p" x="958.5" y="76">184</text><text class="q" x="958.5" y="89.5">53666</text><text class="c" x="958.5" y="102">37.84%</text>
</g>

<g id="row15" transform="translate(31.3 2179.3)">
<use href="#grid"/>
<rect class="o" x="0" y="56.7" width="14.4" height="6.6"/><rect class="y" x="690" y="26.7" width="43.8" height="6.6"/><rect class="o" x="930" y="56.7" width="30" height="6.6"/>
<use class="s o" href="#S" x="30" y="60"/><use class="s o" href="#S" x="60" y="60"/><use class="s o" href="#S" x="90" y="60"/><use class="s o" href="#S" x="120" y="60"/><use class="s g" href="#S" x="150" y="0"/><use class="s r" href="#S" x="180" y="15"/><use class="s y" href="#S" x="210" y="30"/>
<circle class="b" cx="240" cy="45" r="5.2"/><circle class="b" cx="270" cy="45" r="5.2"/><circle class="b" cx="300" cy="45" r="5.2"/><circle class="b" cx="330" cy="45" r="5.2"/><circle class="b" cx="360" cy="45" r="5.2"/><circle class="b" cx="390" cy="45" r="5.2"/><circle class="b" cx="420" cy="45" r="5.2"/><circle class="b" cx="450" cy="45" r="5.2"/><circle class="b" cx="480" cy="45" r="5.2"/><circle class="b" cx="510" cy="45" r="5.2"/><circle class="b" cx="540" cy="45" r="5.2"/><circle class="b" cx="570" cy="45" r="5.2"/><circle class="b" cx="600" cy="45" r="5.2"/>
<circle class="g" cx="630" cy="0" r="5.2"/><circle class="r" cx="660" cy="15" r="5.2"/><circle class="y" cx="690" cy="30" r="5.2"/>
<circle class="y" cx="750" cy="30" r="5.2"/><circle class="y" cx="780" cy="30" r="5.2"/><circle class="y" cx="810" cy="30" r="5.2"/><circle class="y" cx="840" cy="30" r="5.2"/><circle class="y" cx="870" cy="30" r="5.2"/><circle class="y" cx="900" cy="30" r="5.2"/>
<circle class="o" cx="930" cy="60" r="5.2"/>
<rect class="lg" x="0" y="0" width="210" height="60"/>
<rect class="lb" x="0" y="0" width="960" height="60"/>
<text class="t" x="239" y="-20">♩=128</text><text class="t" x="479" y="-20">♩=130</text><text class="t" x="689" y="-20">♩=127</text><text class="t" x="929" y="-20">♩=128</text>
<text class="m" y="-7.3">57</text><text class="m" x="240" y="-7.3">58</text><text class="m" x="480" y="-7.3">59</text><text class="m" x="720" y="-7.3">60</text>
<text class="p" x="238.5" y="76">178</text><text class="q" x="238.5" y="89.5">55802</text><text class="c" x="238.5" y="102">51.19%</text>
<text class="p" x="478.5" y="76">200</text><text class="q" x="478.5" y="89.5">58202</text><text class="c" x="478.5" y="102">38.69%</text>
<text class="p" x="718.5" y="76">206</text><text class="q" x="718.5" y="89.5">60674</text><text class="c" x="718.5" y="102">26.19%</text>
<text class="p" x="958.5" y="76">184</text><text class="q" x="958.5" y="89.5">62882</text><text class="c" x="958.5" y="102">13.69%</text>
</g>

<g id="row16" transform="translate(31.3 2320.3)">
<use href="#grid"/>
<rect class="o" x="0" y="56.7" width="14.4" height="6.6"/><rect class="y" x="450" y="26.7" width="43.8" height="6.6"/><rect class="b" x="930" y="41.7" width="30" height="6.6"/>
<circle class="o" cx="30" cy="60" r="5.2"/><circle class="o" cx="60" cy="60" r="5.2"/><circle class="o" cx="90" cy="60" r="5.2"/><circle class="o" cx="120" cy="60" r="5.2"/>
<circle class="g" cx="150" cy="0" r="5.2"/><circle class="r" cx="180" cy="15" r="5.2"/><circle class="y" cx="210" cy="30" r="5.2"/>
<circle class="b" cx="240" cy="45" r="5.2"/><circle class="b" cx="270" cy="45" r="5.2"/><circle class="b" cx="300" cy="45" r="5.2"/><circle class="b" cx="330" cy="45" r="5.2"/><circle class="b" cx="360" cy="45" r="5.2"/><circle class="b" cx="390" cy="45" r="5.2"/><circle class="b" cx="420" cy="45" r="5.2"/>
<circle class="y" cx="450" cy="30" r="5.2"/><circle class="y" cx="510" cy="30" r="5.2"/><circle class="y" cx="540" cy="30" r="5.2"/><circle class="y" cx="570" cy="30" r="5.2"/><circle class="y" cx="600" cy="30" r="5.2"/>
<circle class="r" cx="630" cy="15" r="5.2"/><circle class="y" cx="660" cy="30" r="5.2"/><circle class="b" cx="690" cy="45" r="5.2"/>
<circle class="o" cx="720" cy="60" r="5.2"/><circle class="o" cx="750" cy="60" r="5.2"/><circle class="o" cx="780" cy="60" r="5.2"/><circle class="o" cx="810" cy="60" r="5.2"/><circle class="o" cx="840" cy="60" r="5.2"/><circle class="o" cx="870" cy="60" r="5.2"/><circle class="o" cx="900" cy="60" r="5.2"/>
<circle class="b" cx="930" cy="45" r="5.2"/>
<rect class="lb" x="0" y="0" width="682.8" height="60"/>
<rect class="lp" x="682.8" y="0" width="7.2" height="60"/>
<text class="t" x="239" y="-20">♩=130</text><text class="t" x="479" y="-20">♩=129</text><text class="t" x="719" y="-20">♩=130</text><text class="t" x="929" y="-20">♩=129</text>
<text class="m" y="-7.3">61</text><text class="m" x="240" y="-7.3">62</text><text class="m" x="480" y="-7.3">63</text><text class="m" x="720" y="-7.3">64</text>
<text class="p" x="238.5" y="76">178</text><text class="q" x="238.5" y="89.5">65018</text><text class="c" x="238.5" y="102">1.19%</text>
<text class="p" x="478.5" y="76">206</text><text class="q" x="478.5" y="89.5">67490</text><text class="c" x="478.5" y="102">0.00%</text>
<text class="p" x="718.5" y="76">178</text><text class="q" x="718.5" y="89.5">69626</text><text class="c" x="718.5" y="102">0.00%</text>
<text class="p" x="958.5" y="76">206</text><text class="q" x="958.5" y="89.5">70862</text><text class="c" x="958.5" y="102">0.00%</text>
</g>

<g id="row17" transform="translate(31.3 2461.3)">
<rect class="wy" x="720" y="-10" width="240" height="81"/>
<use href="#grid"/>
<rect class="b" x="0" y="41.7" width="14.4" height="6.6"/><rect class="y" x="450" y="26.7" width="43.8" height="6.6"/><rect class="b" x="930" y="41.7" width="30" height="6.6"/>
<circle class="b" cx="30" cy="45" r="5.2"/><circle class="b" cx="60" cy="45" r="5.2"/><circle class="b" cx="90" cy="45" r="5.2"/><circle class="b" cx="120" cy="45" r="5.2"/>
<circle class="g" cx="150" cy="0" r="5.2"/><circle class="r" cx="180" cy="15" r="5.2"/><circle class="y" cx="210" cy="30" r="5.2"/>
<circle class="b" cx="240" cy="45" r="5.2"/><circle class="b" cx="270" cy="45" r="5.2"/><circle class="b" cx="300" cy="45" r="5.2"/><circle class="b" cx="330" cy="45" r="5.2"/><circle class="b" cx="360" cy="45" r="5.2"/><circle class="b" cx="390" cy="45" r="5.2"/><circle class="b" cx="420" cy="45" r="5.2"/>
<circle class="y" cx="450" cy="30" r="5.2"/><circle class="y" cx="510" cy="30" r="5.2"/><circle class="y" cx="540" cy="30" r="5.2"/><circle class="y" cx="570" cy="30" r="5.2"/><circle class="y" cx="600" cy="30" r="5.2"/>
<circle class="r" cx="630" cy="15" r="5.2"/><circle class="y" cx="660" cy="30" r="5.2"/><circle class="b" cx="690" cy="45" r="5.2"/>
<use class="s o" href="#S" x="720" y="60"/><use class="s o" href="#S" x="750" y="60"/><use class="s o" href="#S" x="780" y="60"/><use class="s o" href="#S" x="810" y="60"/><use class="s o" href="#S" x="840" y="60"/><use class="s y" href="#S" x="870" y="30"/><use class="s b" href="#S" x="930" y="45"/>
<rect class="lg" x="720" y="0" width="240" height="60"/>
<text class="t" x="239" y="-20">♩=129</text><text class="t" x="449" y="-20">♩=129</text><text class="t" x="719" y="-20">♩=128</text><text class="t" x="929" y="-20">♩=128</text>
<text class="m" y="-7.3">65</text><text class="m" x="240" y="-7.3">66</text><text class="m" x="480" y="-7.3">67</text><text class="m" x="720" y="-7.3">68</text>
<text class="p" x="238.5" y="76">178</text><text class="q" x="238.5" y="89.5">71930</text><text class="c" x="238.5" y="102">0.00%</text>
<text class="p" x="478.5" y="76">206</text><text class="q" x="478.5" y="89.5">73166</text><text class="c" x="478.5" y="102">0.00%</text>
<text class="p" x="718.5" y="76">178</text><text class="q" x="718.5" y="89.5">74234</text><text class="c" x="718.5" y="102">0.00%</text>
<text class="p" x="958.5" y="76">181</text><text class="q" x="958.5" y="89.5">75320</text><text class="c" x="958.5" y="102">26.70%</text>
</g>

<g id="row18" transform="translate(31.3 2602.3)">
<rect class="wy" x="0" y="-10" width="434.4" height="81"/>
<use href="#grid"/>
<rect class="b" x="0" y="41.7" width="434.4" height="6.6"/><rect class="b" x="480" y="41.7" width="180" height="6.6"/><rect class="r" x="720" y="11.7" width="148.8" height="6.6"/>
<circle class="b" cx="450" cy="45" r="5.2"/><circle class="b" cx="480" cy="45" r="5.2"/><circle class="r" cx="690" cy="15" r="5.2"/><circle class="r" cx="720" cy="15" r="5.2"/><circle class="o" cx="930" cy="60" r="5.2"/>
<rect class="lg" x="0" y="0" width="434.4" height="60"/>
<text class="t" x="689" y="-20">♩=129</text>
<text class="m" y="-7.3">69</text><text class="m" x="240" y="-7.3">70</text><text class="m" x="480" y="-7.3">71</text><text class="m" x="720" y="-7.3">72</text>
<text class="p" x="238.5" y="76">48</text><text class="q" x="238.5" y="89.5">75608</text><text class="c" x="238.5" y="102">40.30%</text>
<text class="p" x="478.5" y="76">64</text><text class="q" x="478.5" y="89.5">75992</text><text class="c" x="478.5" y="102">51.35%</text>
<text class="p" x="718.5" y="76">86</text><text class="q" x="718.5" y="89.5">76508</text><text class="c" x="718.5" y="102">51.35%</text>
<text class="p" x="958.5" y="76">80</text><text class="q" x="958.5" y="89.5">76988</text><text class="c" x="958.5" y="102">51.35%</text>
</g>

<g id="row19" transform="translate(31.3 2743.3)">
<use href="#grid"/>
<rect class="o" x="0" y="56.7" width="180" height="6.6"/><rect class="b" x="210" y="41.7" width="210" height="6.6"/><rect class="b" x="480" y="41.7" width="180" height="6.6"/><rect class="o" x="480" y="56.7" width="180" height="6.6"/><rect class="r" x="690" y="11.7" width="209" height="6.6"/><rect class="y" x="690" y="26.7" width="209" height="6.6"/>
<circle class="o" cx="0" cy="60" r="5.2"/><circle class="b" cx="210" cy="45" r="5.2"/><circle class="b" cx="450" cy="45" r="5.2"/><circle class="o" cx="450" cy="60" r="5.2"/><circle class="b" cx="480" cy="45" r="5.2"/><circle class="o" cx="480" cy="60" r="5.2"/><circle class="r" cx="690" cy="15" r="5.2"/><circle class="y" cx="690" cy="30" r="5.2"/><circle class="g" cx="930" cy="0" r="5.2"/><circle class="r" cx="930" cy="15" r="5.2"/>
<text class="t" x="209" y="-20">♩=129</text><text class="t" x="689" y="-20">♩=129</text>
<text class="m" y="-7.3">73</text><text class="m" x="240" y="-7.3">74</text><text class="m" x="480" y="-7.3">75</text><text class="m" x="720" y="-7.3">76</text>
<text class="p" x="238.5" y="76">92</text><text class="q" x="238.5" y="89.5">77540</text><text class="c" x="238.5" y="102">51.35%</text>
<text class="p" x="478.5" y="76">86</text><text class="q" x="478.5" y="89.5">78056</text><text class="c" x="478.5" y="102">51.35%</text>
<text class="p" x="718.5" y="76">184</text><text class="q" x="718.5" y="89.5">79160</text><text class="c" x="718.5" y="102">51.35%</text>
<text class="p" x="958.5" y="76">122</text><text class="q" x="958.5" y="89.5">79892</text><text class="c" x="958.5" y="102">51.35%</text>
</g>

<g id="row20" transform="translate(31.3 2884.3)">
<use href="#grid"/>
<rect class="g" x="0" y="-3.3" width="180" height="6.6"/><rect class="r" x="0" y="11.7" width="180" height="6.6"/><rect class="o" x="210" y="56.7" width="164.4" height="6.6"/>
<circle class="g" cx="0" cy="0" r="5.2"/><circle class="r" cx="0" cy="15" r="5.2"/><circle class="o" cx="210" cy="60" r="5.2"/>
<circle class="g" cx="390" cy="0" r="5.2"/><circle class="r" cx="420" cy="15" r="5.2"/><circle class="y" cx="450" cy="30" r="5.2"/>
<circle class="b" cx="480" cy="45" r="5.2"/><circle class="b" cx="510" cy="45" r="5.2"/><circle class="b" cx="540" cy="45" r="5.2"/><circle class="b" cx="570" cy="45" r="5.2"/><circle class="b" cx="600" cy="45" r="5.2"/><circle class="b" cx="630" cy="45" r="5.2"/><circle class="b" cx="660" cy="45" r="5.2"/>
<circle class="y" cx="690" cy="30" r="5.2"/><circle class="y" cx="720" cy="30" r="5.2"/><circle class="y" cx="750" cy="30" r="5.2"/><circle class="y" cx="780" cy="30" r="5.2"/><circle class="y" cx="810" cy="30" r="5.2"/><circle class="y" cx="840" cy="30" r="5.2"/>
<circle class="r" cx="870" cy="15" r="5.2"/><circle class="y" cx="900" cy="30" r="5.2"/><circle class="b" cx="930" cy="45" r="5.2"/>
<rect class="lb" x="390" y="0" width="570" height="60"/>
<text class="t" x="209" y="-20">♩=129</text><text class="t" x="479" y="-20">♩=130</text><text class="t" x="719" y="-20">♩=128</text>
<text class="m" y="-7.3">77</text><text class="m" x="240" y="-7.3">78</text><text class="m" x="480" y="-7.3">79</text><text class="m" x="720" y="-7.3">80</text>
<text class="p" x="238.5" y="76">153</text><text class="q" x="238.5" y="89.5">80810</text><text class="c" x="238.5" y="102">51.35%</text>
<text class="p" x="478.5" y="76">102</text><text class="q" x="478.5" y="89.5">81872</text><text class="c" x="478.5" y="102">46.75%</text>
<text class="p" x="718.5" y="76">200</text><text class="q" x="718.5" y="89.5">84272</text><text class="c" x="718.5" y="102">34.25%</text>
<text class="p" x="958.5" y="76">200</text><text class="q" x="958.5" y="89.5">86672</text><text class="c" x="958.5" y="102">21.75%</text>
</g>

<g id="row21" transform="translate(31.3 3025.3)">
<use href="#grid"/>
<circle class="o" cx="0" cy="60" r="5.2"/><circle class="o" cx="30" cy="60" r="5.2"/><circle class="o" cx="60" cy="60" r="5.2"/><circle class="o" cx="90" cy="60" r="5.2"/><circle class="o" cx="120" cy="60" r="5.2"/>
<circle class="r" cx="150" cy="15" r="5.2"/><circle class="y" cx="180" cy="30" r="5.2"/>
<circle class="b" cx="210" cy="45" r="5.2"/><circle class="b" cx="240" cy="45" r="5.2"/><circle class="b" cx="270" cy="45" r="5.2"/><circle class="b" cx="300" cy="45" r="5.2"/><circle class="b" cx="330" cy="45" r="5.2"/><circle class="b" cx="360" cy="45" r="5.2"/>
<use class="s g" href="#S" x="390" y="0"/><use class="s r" href="#S" x="420" y="15"/><use class="s y" href="#S" x="450" y="30"/><use class="s b" href="#S" x="480" y="45"/><use class="s b" href="#S" x="510" y="45"/><use class="s b" href="#S" x="540" y="45"/><use class="s b" href="#S" x="570" y="45"/><use class="s b" href="#S" x="600" y="45"/>
<circle class="g" cx="630" cy="0" r="5.2"/><circle class="r" cx="660" cy="15" r="5.2"/>
<circle class="y" cx="690" cy="30" r="5.2"/><circle class="y" cx="720" cy="30" r="5.2"/><circle class="y" cx="750" cy="30" r="5.2"/><circle class="y" cx="780" cy="30" r="5.2"/><circle class="y" cx="810" cy="30" r="5.2"/><circle class="y" cx="840" cy="30" r="5.2"/>
<circle class="r" cx="870" cy="15" r="5.2"/><circle class="y" cx="900" cy="30" r="5.2"/><circle class="b" cx="930" cy="45" r="5.2"/>
<rect class="lg" x="390" y="0" width="210" height="60"/>
<rect class="lb" x="0" y="0" width="960" height="60"/>
<text class="t" x="-1" y="-20">♩=129</text><text class="t" x="209" y="-20">♩=131</text><text class="t" x="479" y="-20">♩=129</text><text class="t" x="719" y="-20">♩=129</text>
<text class="m" y="-7.3">81</text><text class="m" x="240" y="-7.3">82</text><text class="m" x="480" y="-7.3">83</text><text class="m" x="720" y="-7.3">84</text>
<text class="p" x="238.5" y="76">200</text><text class="q" x="238.5" y="89.5">89072</text><text class="c" x="238.5" y="102">9.25%</text>
<text class="p" x="478.5" y="76">200</text><text class="q" x="478.5" y="89.5">91472</text><text class="c" x="478.5" y="102">0.00%</text>
<text class="p" x="718.5" y="76">200</text><text class="q" x="718.5" y="89.5">93872</text><text class="c" x="718.5" y="102">18.75%</text>
<text class="p" x="958.5" y="76">200</text><text class="q" x="958.5" y="89.5">96272</text><text class="c" x="958.5" y="102">6.25%</text>
</g>

<g id="row22" transform="translate(31.3 3166.3)">
<use href="#grid"/>
<circle class="o" cx="0" cy="60" r="5.2"/><circle class="o" cx="30" cy="60" r="5.2"/><circle class="o" cx="60" cy="60" r="5.2"/><circle class="o" cx="90" cy="60" r="5.2"/><circle class="o" cx="120" cy="60" r="5.2"/>
<circle class="g" cx="150" cy="0" r="5.2"/><circle class="r" cx="180" cy="15" r="5.2"/><circle class="y" cx="210" cy="30" r="5.2"/>
<circle class="b" cx="240" cy="45" r="5.2"/><circle class="b" cx="270" cy="45" r="5.2"/><circle class="b" cx="300" cy="45" r="5.2"/><circle class="b" cx="330" cy="45" r="5.2"/><circle class="b" cx="360" cy="45" r="5.2"/>
<circle class="g" cx="390" cy="0" r="5.2"/><circle class="r" cx="420" cy="15" r="5.2"/><circle class="y" cx="450" cy="30" r="5.2"/>
<circle class="b" cx="480" cy="45" r="5.2"/><circle class="b" cx="510" cy="45" r="5.2"/><circle class="b" cx="540" cy="45" r="5.2"/><circle class="b" cx="570" cy="45" r="5.2"/><circle class="b" cx="600" cy="45" r="5.2"/>
<circle class="g" cx="630" cy="0" r="5.2"/><circle class="r" cx="660" cy="15" r="5.2"/>
<circle class="y" cx="690" cy="30" r="5.2"/><circle class="y" cx="720" cy="30" r="5.2"/><circle class="y" cx="750" cy="30" r="5.2"/><circle class="y" cx="780" cy="30" r="5.2"/><circle class="y" cx="810" cy="30" r="5.2"/><circle class="y" cx="840" cy="30" r="5.2"/>
<circle class="r" cx="870" cy="15" r="5.2"/><circle class="y" cx="900" cy="30" r="5.2"/><circle class="b" cx="930" cy="45" r="5.2"/>
<rect class="lb" x="0" y="0" width="416.7" height="60"/>
<rect class="lp" x="416.7" y="0" width="3.3" height="60"/>
<text class="t" x="-1" y="-20">♩=131</text><text class="t" x="239" y="-20">♩=129</text><text class="t" x="479" y="-20">♩=126</text><text class="t" x="719" y="-20">♩=127</text>
<text class="m" y="-7.3">85</text><text class="m" x="240" y="-7.3">86</text><text class="m" x="480" y="-7.3">87</text><text class="m" x="720" y="-7.3">88</text>
<text class="p" x="238.5" y="76">200</text><text class="q" x="238.5" y="89.5">98672</text><text class="c" x="238.5" y="102">0.00%</text>
<text class="p" x="478.5" y="76">200</text><text class="q" x="478.5" y="89.5">100922</text><text class="c" x="478.5" y="102">0.00%</text>
<text class="p" x="718.5" y="76">200</text><text class="q" x="718.5" y="89.5">102122</text><text class="c" x="718.5" y="102">0.00%</text>
<text class="p" x="958.5" y="76">200</text><text class="q" x="958.5" y="89.5">103322</text><text class="c" x="958.5" y="102">0.00%</text>
</g>

<g id="row23" transform="translate(31.3 3307.3)">
<use href="#grid"/>
<circle class="o" cx="0" cy="60" r="5.2"/><circle class="o" cx="30" cy="60" r="5.2"/><circle class="o" cx="60" cy="60" r="5.2"/><circle class="o" cx="90" cy="60" r="5.2"/><circle class="o" cx="120" cy="60" r="5.2"/>
<circle class="r" cx="150" cy="15" r="5.2"/><circle class="y" cx="180" cy="30" r="5.2"/>
<circle class="b" cx="210" cy="45" r="5.2"/><circle class="b" cx="240" cy="45" r="5.2"/><circle class="b" cx="270" cy="45" r="5.2"/><circle class="b" cx="300" cy="45" r="5.2"/><circle class="b" cx="330" cy="45" r="5.2"/><circle class="b" cx="360" cy="45" r="5.2"/>
<circle class="g" cx="390" cy="0" r="5.2"/><circle class="r" cx="420" cy="15" r="5.2"/><circle class="y" cx="450" cy="30" r="5.2"/>
<circle class="b" cx="480" cy="45" r="5.2"/><circle class="b" cx="510" cy="45" r="5.2"/><circle class="b" cx="540" cy="45" r="5.2"/><circle class="b" cx="570" cy="45" r="5.2"/><circle class="b" cx="600" cy="45" r="5.2"/>
<circle class="g" cx="630" cy="0" r="5.2"/><circle class="r" cx="660" cy="15" r="5.2"/>
<circle class="y" cx="690" cy="30" r="5.2"/><circle class="y" cx="720" cy="30" r="5.2"/><circle class="y" cx="750" cy="30" r="5.2"/><circle class="y" cx="780" cy="30" r="5.2"/><circle class="y" cx="810" cy="30" r="5.2"/><circle class="y" cx="840" cy="30" r="5.2"/>
<circle class="r" cx="870" cy="15" r="5.2"/><circle class="y" cx="900" cy="30" r="5.2"/><circle class="b" cx="930" cy="45" r="5.2"/>
<text class="t" x="-1" y="-20">♩=131</text><text class="t" x="239" y="-20">♩=129</text><text class="t" x="479" y="-20">♩=129</text><text class="t" x="689" y="-20">♩=129</text>
<text class="m" y="-7.3">89</text><text class="m" x="240" y="-7.3">90</text><text class="m" x="480" y="-7.3">91</text><text class="m" x="720" y="-7.3">92</text>
<text class="p" x="238.5" y="76">200</text><text class="q" x="238.5" y="89.5">104522</text><text class="c" x="238.5" y="102">0.00%</text>
<text class="p" x="478.5" y="76">200</text><text class="q" x="478.5" y="89.5">105722</text><text class="c" x="478.5" y="102">0.00%</text>
<text class="p" x="718.5" y="76">200</text><text class="q" x="718.5" y="89.5">106922</text><text class="c" x="718.5" y="102">0.00%</text>
<text class="p" x="958.5" y="76">200</text><text class="q" x="958.5" y="89.5">108122</text><text class="c" x="958.5" y="102">0.00%</text>
</g>

<g id="row24" transform="translate(31.3 3448.3)">
<rect class="wy" x="0" y="-10" width="463.8" height="81"/>
<use href="#grid"/>
<rect class="b" x="210" y="41.7" width="253.8" height="6.6"/><rect class="o" x="480" y="56.7" width="164.4" height="6.6"/>
<use class="s o" href="#S" x="0" y="60"/><use class="s o" href="#S" x="30" y="60"/><use class="s o" href="#S" x="60" y="60"/><use class="s o" href="#S" x="90" y="60"/><use class="s o" href="#S" x="120" y="60"/><use class="s r" href="#S" x="150" y="15"/><use class="s b" href="#S" x="210" y="45"/>
<circle class="o" cx="480" cy="60" r="5.2"/><circle class="g" cx="660" cy="0" r="5.2"/>
<rect class="lg" x="0" y="0" width="463.8" height="60"/>
<text class="t" x="-1" y="-20">♩=126</text><text class="t" x="209" y="-20">♩=129</text><text class="t" x="479" y="-20">♩=129</text>
<text class="m" y="-7.3">93</text><text class="m" x="240" y="-7.3">94</text><text class="m" x="480" y="-7.3">95</text><text class="m" x="720" y="-7.3">96</text>
<text class="p" x="238.5" y="76">181</text><text class="q" x="238.5" y="89.5">109208</text><text class="c" x="238.5" y="102">26.70%</text>
<text class="p" x="478.5" y="76">45</text><text class="q" x="478.5" y="89.5">109478</text><text class="c" x="478.5" y="102">39.45%</text>
<text class="p" x="718.5" y="76">83</text><text class="q" x="718.5" y="89.5">109976</text><text class="c" x="718.5" y="102">39.45%</text>
<text class="p" x="958.5" y="76">0</text><text class="q" x="958.5" y="89.5">109976</text><text class="c" x="958.5" y="102">39.45%</text>
</g>

<g id="row25" transform="translate(31.3 3589.3)">
<use href="#grid"/>
<text class="t" x="479" y="-20">♩=128</text><text class="t" x="719" y="-20">♩=130</text>
<text class="m" y="-7.3">97</text><text class="m" x="240" y="-7.3">98</text><text class="m" x="480" y="-7.3">99</text><text class="m" x="720" y="-7.3">100</text>
<text class="p" x="238.5" y="76">0</text><text class="q" x="238.5" y="89.5">109976</text><text class="c" x="238.5" y="102">39.45%</text>
<text class="p" x="478.5" y="76">0</text><text class="q" x="478.5" y="89.5">109976</text><text class="c" x="478.5" y="102">39.45%</text>
<text class="p" x="718.5" y="76">0</text><text class="q" x="718.5" y="89.5">109976</text><text class="c" x="718.5" y="102">39.45%</text>
<text class="p" x="958.5" y="76">0</text><text class="q" x="958.5" y="89.5">109976</text><text class="c" x="958.5" y="102">39.45%</text>
</g>

<g id="row26" transform="translate(31.3 3730.3)">
<use href="#grid"/>
<rect class="o" x="420" y="56.7" width="43.8" height="6.6"/>
<circle class="g" cx="390" cy="0" r="5.2"/><circle class="o" cx="420" cy="60" r="5.2"/>
<circle class="b" cx="480" cy="45" r="5.2"/><circle class="b" cx="510" cy="45" r="5.2"/><circle class="b" cx="540" cy="45" r="5.2"/><circle class="b" cx="570" cy="45" r="5.2"/><circle class="b" cx="600" cy="45" r="5.2"/><circle class="b" cx="630" cy="45" r="5.2"/><circle class="b" cx="660" cy="45" r="5.2"/>
<circle class="y" cx="690" cy="30" r="5.2"/><circle class="y" cx="720" cy="30" r="5.2"/><circle class="y" cx="750" cy="30" r="5.2"/><circle class="y" cx="780" cy="30" r="5.2"/><circle class="y" cx="810" cy="30" r="5.2"/><circle class="y" cx="840" cy="30" r="5.2"/>
<circle class="r" cx="870" cy="15" r="5.2"/><circle class="y" cx="900" cy="30" r="5.2"/><circle class="b" cx="930" cy="45" r="5.2"/>
<rect class="lb" x="488.5" y="0" width="471.5" height="60"/>
<rect class="lp" x="480" y="0" width="8.5" height="60"/>
<text class="t" x="-1" y="-20">♩=131</text><text class="t" x="239" y="-20">♩=126</text><text class="t" x="479" y="-20">♩=131</text><text class="t" x="719" y="-20">♩=128</text>
<text class="m" y="-7.3">101</text><text class="m" x="240" y="-7.3">102</text><text class="m" x="480" y="-7.3">103</text><text class="m" x="720" y="-7.3">104</text>
<text class="p" x="238.5" y="76">0</text><text class="q" x="238.5" y="89.5">109976</text><text class="c" x="238.5" y="102">39.45%</text>
<text class="p" x="478.5" y="76">59</text><text class="q" x="478.5" y="89.5">110330</text><text class="c" x="478.5" y="102">39.45%</text>
<text class="p" x="718.5" y="76">200</text><text class="q" x="718.5" y="89.5">112730</text><text class="c" x="718.5" y="102">27.52%</text>
<text class="p" x="958.5" y="76">200</text><text class="q" x="958.5" y="89.5">115130</text><text class="c" x="958.5" y="102">15.02%</text>
</g>

<g id="row27" transform="translate(31.3 3871.3)">
<use href="#grid"/>
<circle class="o" cx="0" cy="60" r="5.2"/><circle class="o" cx="30" cy="60" r="5.2"/><circle class="o" cx="60" cy="60" r="5.2"/><circle class="o" cx="90" cy="60" r="5.2"/><circle class="o" cx="120" cy="60" r="5.2"/><circle class="o" cx="150" cy="60" r="5.2"/><circle class="o" cx="180" cy="60" r="5.2"/>
<circle class="b" cx="210" cy="45" r="5.2"/><circle class="b" cx="240" cy="45" r="5.2"/><circle class="b" cx="270" cy="45" r="5.2"/><circle class="b" cx="300" cy="45" r="5.2"/><circle class="b" cx="330" cy="45" r="5.2"/><circle class="b" cx="360" cy="45" r="5.2"/>
<use class="s g" href="#S" x="390" y="0"/><use class="s r" href="#S" x="420" y="15"/><use class="s y" href="#S" x="450" y="30"/><use class="s b" href="#S" x="480" y="45"/><use class="s b" href="#S" x="510" y="45"/><use class="s b" href="#S" x="540" y="45"/><use class="s b" href="#S" x="570" y="45"/><use class="s b" href="#S" x="600" y="45"/><use class="s b" href="#S" x="630" y="45"/><use class="s b" href="#S" x="660" y="45"/>
<circle class="y" cx="690" cy="30" r="5.2"/><circle class="y" cx="720" cy="30" r="5.2"/><circle class="y" cx="750" cy="30" r="5.2"/><circle class="y" cx="780" cy="30" r="5.2"/><circle class="y" cx="810" cy="30" r="5.2"/><circle class="y" cx="840" cy="30" r="5.2"/>
<circle class="r" cx="870" cy="15" r="5.2"/><circle class="y" cx="900" cy="30" r="5.2"/><circle class="b" cx="930" cy="45" r="5.2"/>
<rect class="lg" x="390" y="0" width="270" height="60"/>
<rect class="lb" x="0" y="0" width="960" height="60"/>
<text class="t" x="-1" y="-20">♩=129</text><text class="t" x="209" y="-20">♩=130</text><text class="t" x="479" y="-20">♩=128</text><text class="t" x="689" y="-20">♩=130</text>
<text class="m" y="-7.3">105</text><text class="m" x="240" y="-7.3">106</text><text class="m" x="480" y="-7.3">107</text><text class="m" x="720" y="-7.3">108</text>
<text class="p" x="238.5" y="76">200</text><text class="q" x="238.5" y="89.5">117530</text><text class="c" x="238.5" y="102">2.52%</text>
<text class="p" x="478.5" y="76">200</text><text class="q" x="478.5" y="89.5">119930</text><text class="c" x="478.5" y="102">0.00%</text>
<text class="p" x="718.5" y="76">200</text><text class="q" x="718.5" y="89.5">122330</text><text class="c" x="718.5" y="102">21.88%</text>
<text class="p" x="958.5" y="76">200</text><text class="q" x="958.5" y="89.5">124730</text><text class="c" x="958.5" y="102">9.38%</text>
</g>

<g id="row28" transform="translate(31.3 4012.3)">
<use href="#grid"/>
<circle class="o" cx="0" cy="60" r="5.2"/><circle class="o" cx="30" cy="60" r="5.2"/><circle class="o" cx="60" cy="60" r="5.2"/><circle class="o" cx="90" cy="60" r="5.2"/><circle class="o" cx="120" cy="60" r="5.2"/><circle class="o" cx="150" cy="60" r="5.2"/><circle class="o" cx="180" cy="60" r="5.2"/>
<circle class="b" cx="210" cy="45" r="5.2"/><circle class="b" cx="240" cy="45" r="5.2"/><circle class="b" cx="270" cy="45" r="5.2"/><circle class="b" cx="300" cy="45" r="5.2"/><circle class="b" cx="330" cy="45" r="5.2"/><circle class="b" cx="360" cy="45" r="5.2"/>
<circle class="g" cx="390" cy="0" r="5.2"/><circle class="r" cx="420" cy="15" r="5.2"/><circle class="y" cx="450" cy="30" r="5.2"/>
<circle class="b" cx="480" cy="45" r="5.2"/><circle class="b" cx="510" cy="45" r="5.2"/><circle class="b" cx="540" cy="45" r="5.2"/><circle class="b" cx="570" cy="45" r="5.2"/><circle class="b" cx="600" cy="45" r="5.2"/>
<circle class="g" cx="630" cy="0" r="5.2"/><circle class="r" cx="660" cy="15" r="5.2"/>
<circle class="y" cx="690" cy="30" r="5.2"/><circle class="y" cx="720" cy="30" r="5.2"/><circle class="y" cx="750" cy="30" r="5.2"/><circle class="y" cx="780" cy="30" r="5.2"/><circle class="y" cx="810" cy="30" r="5.2"/><circle class="y" cx="840" cy="30" r="5.2"/>
<circle class="r" cx="870" cy="15" r="5.2"/><circle class="y" cx="900" cy="30" r="5.2"/><circle class="b" cx="930" cy="45" r="5.2"/>
<rect class="lb" x="0" y="0" width="286.2" height="60"/>
<rect class="lp" x="286.2" y="0" width="13.4" height="60"/>
<text class="t" x="-1" y="-20">♩=128</text><text class="t" x="239" y="-20">♩=132</text><text class="t" x="479" y="-20">♩=127</text><text class="t" x="719" y="-20">♩=127</text>
<text class="m" y="-7.3">109</text><text class="m" x="240" y="-7.3">110</text><text class="m" x="480" y="-7.3">111</text><text class="m" x="720" y="-7.3">112</text>
<text class="p" x="238.5" y="76">200</text><text class="q" x="238.5" y="89.5">127130</text><text class="c" x="238.5" y="102">0.00%</text>
<text class="p" x="478.5" y="76">200</text><text class="q" x="478.5" y="89.5">128780</text><text class="c" x="478.5" y="102">0.00%</text>
<text class="p" x="718.5" y="76">200</text><text class="q" x="718.5" y="89.5">129980</text><text class="c" x="718.5" y="102">0.00%</text>
<text class="p" x="958.5" y="76">200</text><text class="q" x="958.5" y="89.5">131180</text><text class="c" x="958.5" y="102">0.00%</text>
</g>

<g id="row29" transform="translate(31.3 4153.3)">
<use href="#grid"/>
<circle class="o" cx="0" cy="60" r="5.2"/><circle class="o" cx="30" cy="60" r="5.2"/><circle class="o" cx="60" cy="60" r="5.2"/><circle class="o" cx="90" cy="60" r="5.2"/><circle class="o" cx="120" cy="60" r="5.2"/>
<circle class="y" cx="150" cy="30" r="5.2"/><circle class="y" cx="180" cy="30" r="5.2"/>
<circle class="b" cx="210" cy="45" r="5.2"/><circle class="b" cx="240" cy="45" r="5.2"/><circle class="b" cx="270" cy="45" r="5.2"/><circle class="b" cx="300" cy="45" r="5.2"/><circle class="b" cx="330" cy="45" r="5.2"/><circle class="b" cx="360" cy="45" r="5.2"/>
<circle class="g" cx="390" cy="0" r="5.2"/><circle class="r" cx="420" cy="15" r="5.2"/><circle class="y" cx="450" cy="30" r="5.2"/>
<circle class="b" cx="480" cy="45" r="5.2"/><circle class="b" cx="510" cy="45" r="5.2"/><circle class="b" cx="540" cy="45" r="5.2"/><circle class="b" cx="570" cy="45" r="5.2"/><circle class="b" cx="600" cy="45" r="5.2"/>
<circle class="g" cx="630" cy="0" r="5.2"/><circle class="r" cx="660" cy="15" r="5.2"/>
<circle class="y" cx="690" cy="30" r="5.2"/><circle class="y" cx="720" cy="30" r="5.2"/><circle class="y" cx="750" cy="30" r="5.2"/><circle class="y" cx="780" cy="30" r="5.2"/><circle class="y" cx="810" cy="30" r="5.2"/><circle class="y" cx="840" cy="30" r="5.2"/>
<circle class="r" cx="870" cy="15" r="5.2"/><circle class="y" cx="900" cy="30" r="5.2"/><circle class="b" cx="930" cy="45" r="5.2"/>
<text class="t" x="-1" y="-20">♩=130</text><text class="t" x="239" y="-20">♩=129</text><text class="t" x="479" y="-20">♩=128</text><text class="t" x="689" y="-20">♩=129</text>
<text class="m" y="-7.3">113</text><text class="m" x="240" y="-7.3">114</text><text class="m" x="480" y="-7.3">115</text><text class="m" x="720" y="-7.3">116</text>
<text class="p" x="238.5" y="76">200</text><text class="q" x="238.5" y="89.5">132380</text><text class="c" x="238.5" y="102">0.00%</text>
<text class="p" x="478.5" y="76">200</text><text class="q" x="478.5" y="89.5">133580</text><text class="c" x="478.5" y="102">0.00%</text>
<text class="p" x="718.5" y="76">200</text><text class="q" x="718.5" y="89.5">134780</text><text class="c" x="718.5" y="102">0.00%</text>
<text class="p" x="958.5" y="76">200</text><text class="q" x="958.5" y="89.5">135980</text><text class="c" x="958.5" y="102">0.00%</text>
</g>

<g id="row30" transform="translate(31.3 4294.3)">
<rect class="bre" x="314.4" y="-10" width="645.6" height="82"/>
<use href="#grid"/>
<rect class="b" x="210" y="41.7" width="74.4" height="6.6"/><rect class="b" x="314.4" y="41.7" width="645.6" height="6.6"/>
<circle class="o" cx="0" cy="60" r="5.2"/><circle class="o" cx="30" cy="60" r="5.2"/><circle class="o" cx="60" cy="60" r="5.2"/><circle class="o" cx="90" cy="60" r="5.2"/><circle class="o" cx="120" cy="60" r="5.2"/>
<circle class="y" cx="150" cy="30" r="5.2"/><circle class="b" cx="210" cy="45" r="5.2"/><circle class="b" cx="314.4" cy="45" r="5.2"/>
<text class="t" x="-1" y="-20">♩=130</text><text class="t" x="209" y="-20">♩=145</text>
<text class="m" y="-7.3">117</text><text class="m" x="240" y="-7.3">118</text><text class="m" x="480" y="-7.3">119</text><text class="m" x="720" y="-7.3">120</text>
<text class="p" x="238.5" y="76">181</text><text class="q" x="238.5" y="89.5">137066</text><text class="c" x="238.5" y="102">0.00%</text>
<text class="p" x="478.5" y="76">9</text><text class="q" x="478.5" y="89.5">137120</text><text class="c" x="478.5" y="102">0.00%</text>
<text class="p" x="718.5" y="76">0</text><text class="q" x="718.5" y="89.5">137120</text><text class="c" x="718.5" y="102">0.00%</text>
<text class="p" x="958.5" y="76">0</text><text class="q" x="958.5" y="89.5">137120</text><text class="c" x="958.5" y="102">0.00%</text>
</g>

<g id="row31" transform="translate(31.3 4435.3)">
<rect class="bre" x="0" y="-10" width="194.4" height="82"/>
<use href="#grid2"/>
<rect class="b" x="0" y="41.7" width="180" height="6.6"/>
<circle class="g" cx="240" cy="0" r="5.2"/><circle class="b" cx="240" cy="45" r="5.2"/>
<text class="t" x="89" y="-20">♩=134</text>
<text class="m" y="-7.3">121</text><text class="m" x="240" y="-7.3">122</text>
<text class="p" x="238.5" y="76">0</text><text class="q" x="238.5" y="89.5">137120</text><text class="c" x="238.5" y="102">0.00%</text>
<text class="p" x="478.5" y="76">0</text><text class="q" x="478.5" y="89.5">140798</text><text class="c" x="478.5" y="102">0.00%</text>
</g>
</g>
</svg>
